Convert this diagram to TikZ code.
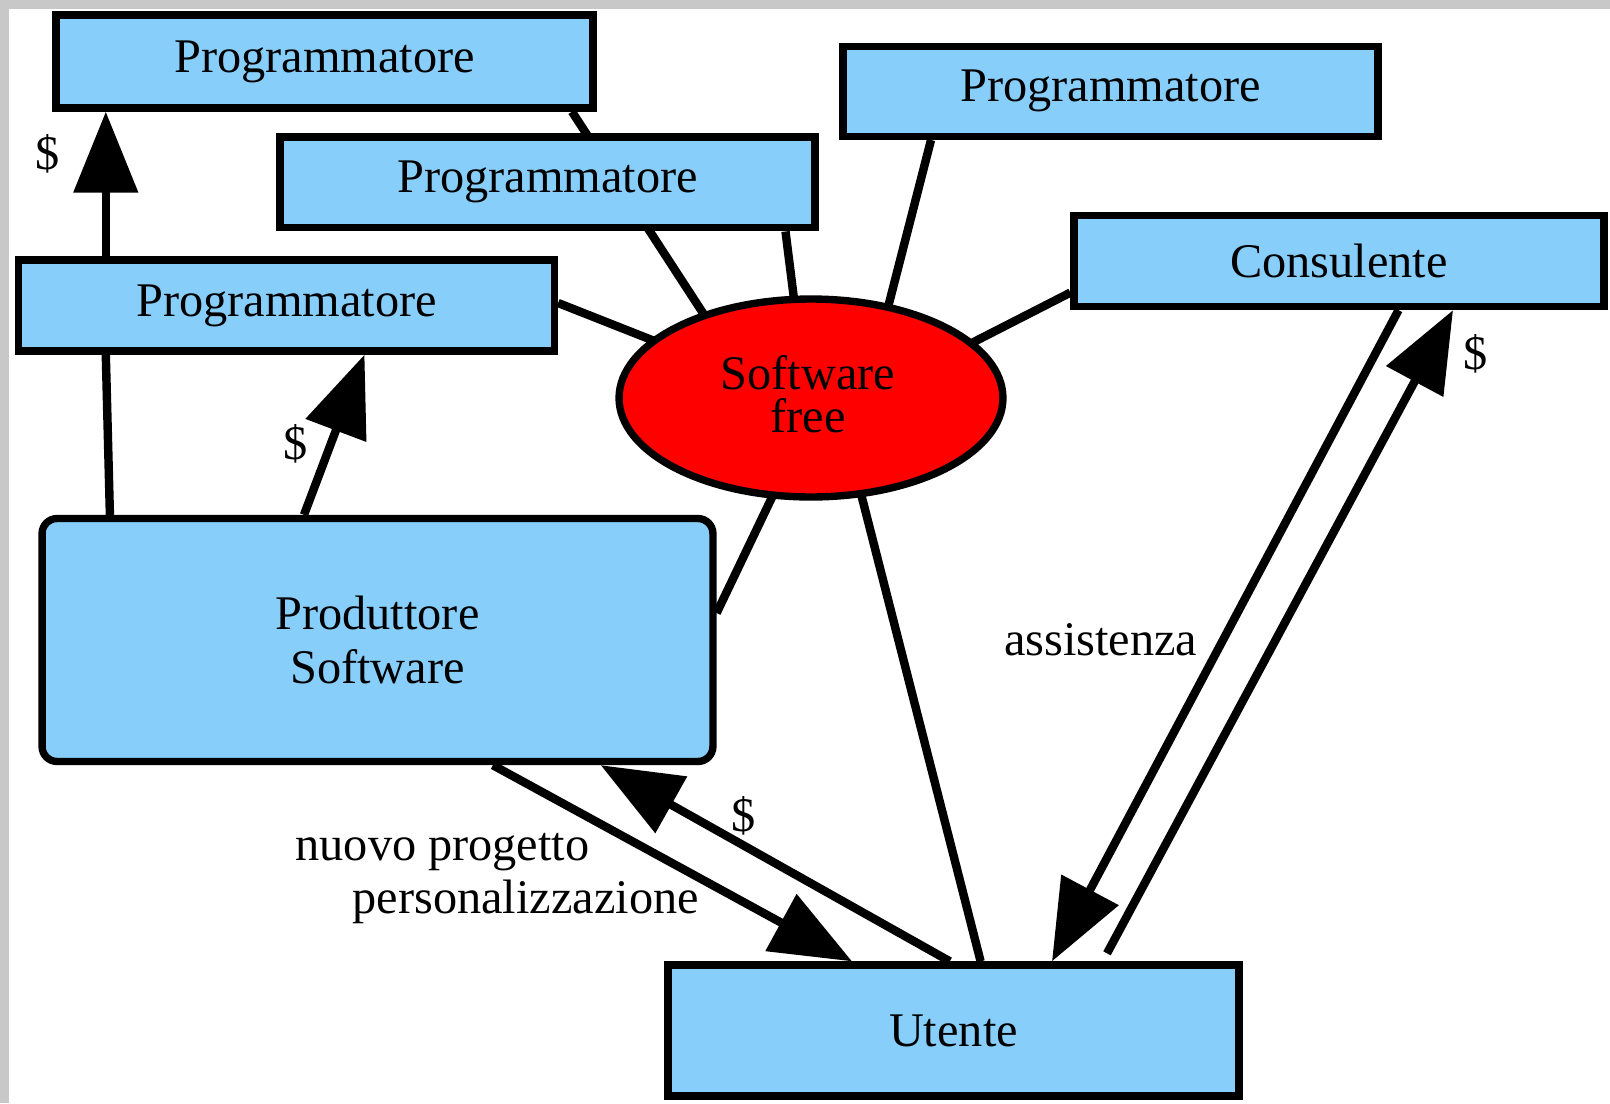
\documentclass[tikz,border=0pt]{standalone}
\usepackage{fontspec}
\setmainfont{Liberation Serif}
\usetikzlibrary{arrows.meta,shapes.geometric,backgrounds,calc}
\definecolor{boxblue}{HTML}{87CEFA}
\definecolor{sfred}{HTML}{FF0000}
\definecolor{framegray}{HTML}{C8C8C8}
\begin{document}
\begin{tikzpicture}[x=0.02cm,y=-0.02cm,
  txt/.style={font=\fontsize{27.5}{30}\selectfont, text=black},
  pbox/.style={txt, draw=black, line width=4.2pt, fill=boxblue, rectangle, inner sep=0pt},
  ln/.style={line width=4.8pt, draw=black},
  arr/.style={ln, -{Triangle[length=1.62cm,width=1.26cm]}},
  lbl/.style={txt, inner sep=0pt}]
\useasboundingbox (0,0) rectangle (1610,1103);

% nodes
\node[pbox, minimum width=10.74cm, minimum height=1.86cm] (P1) at (324.5,61.5) {Programmatore};
\node[pbox, minimum width=10.7cm, minimum height=1.82cm] (P2) at (547.5,182.3) {Programmatore};
\node[pbox, minimum width=10.72cm, minimum height=1.82cm] (P3) at (286.5,305.5) {Programmatore};
\node[pbox, minimum width=10.7cm, minimum height=1.80cm] (P4) at (1110.5,91.3) {Programmatore};
\node[pbox, minimum width=10.6cm, minimum height=1.82cm] (Cons) at (1339,261) {Consulente};
\node[pbox, ellipse, fill=sfred, minimum width=7.68cm, minimum height=3.96cm, inner sep=0pt] (sf) at (811,398) {};
\node[lbl, align=center, font=\fontsize{27.5}{24.5}\selectfont] (sft) at (808,394) {Software\\free};
\node[pbox, rounded corners=0.3cm, minimum width=13.42cm, minimum height=4.86cm, align=center,
      font=\fontsize{27.5}{30.4}\selectfont] (Prod) at (377.5,640) {Produttore\\Software};
\node[pbox, minimum width=11.42cm, minimum height=2.62cm] (Ut) at (953.5,1030.5) {Utente};

% labels
\node[lbl] (d1) at (48,154) {\$};
\node[lbl] (d2) at (296,443.6) {\$};
\node[lbl] (d3) at (743.4,816) {\$};
\node[lbl] (d4) at (1475.5,354) {\$};
\node[lbl] (ass) at (1100.7,639.7) {assistenza};
\node[lbl] (np) at (442.5,852) {nuovo progetto};
\node[lbl] (pers) at (525.7,901.5) {personalizzazione};

\begin{pgfonlayer}{background}
  \fill[white] (0,0) rectangle (1610,1103);
  \fill[framegray] (0,0) rectangle (1610,9);
  \fill[framegray] (0,0) rectangle (9,1103);
  % connectors
  \draw[arr] (105.8,0 |- P3.north) -- (105.8,0 |- P1.south);
  \draw[ln] (109.9,0 |- Prod.north) -- (105.8,0 |- P3.south);
  \draw[arr] (304,0 |- Prod.north) -- (364.5,0 |- P3.south);
  \draw[ln] ($(sf)+(-97,-68)$) -- (572,0 |- P1.south);
  \draw[ln] ($(sf)+(-15.5,-87)$) -- (785.5,0 |- P2.south);
  \draw[ln] ($(sf)+(74,-79)$) -- (931,0 |- P4.south);
  \draw[ln] ($(sf)+(-149,-54)$) -- (P3.east |- 0,303);
  \draw[ln] ($(sf)+(151,-50)$) -- (Cons.west |- 0,292.6);
  \draw[ln] ($(sf)+(-36,93)$) -- (Prod.east |- 0,613);
  \draw[ln] ($(sf)+(48,88)$) -- (980.6,0 |- Ut.north);
  \draw[arr] (492.9,0 |- Prod.south) -- (852,0 |- Ut.north);
  \draw[arr] (949.8,0 |- Ut.north) -- (600.7,0 |- Prod.south);
  \draw[arr] (1398.5,0 |- Cons.south) -- (1052,0 |- Ut.north);
  \draw[arr] ($(1107,0 |- Ut.north)+(0,-8)$) -- (1453,0 |- Cons.south);
\end{pgfonlayer}
\end{tikzpicture}
\end{document}
